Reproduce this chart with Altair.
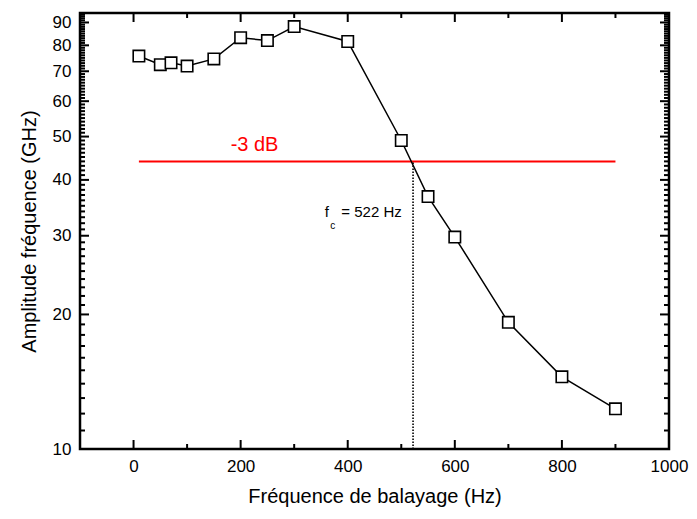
import altair as alt
import pandas as pd

# data
freq = [10, 50, 70, 100, 150, 200, 250, 300, 400, 500, 550, 600, 700, 800, 900]
amp = [75.7, 72.4, 73.1, 71.9, 74.6, 83.2, 82.0, 88.1, 81.6, 49.0, 36.7, 29.8, 19.2, 14.5, 12.3]

level_x = [10, 900]
level_y = 44.0
fc = 522

x_labels = [0, 200, 400, 600, 800, 1000]
x_major = [0, 200, 400, 600, 800]
x_minor = [100, 300, 500, 700, 900]
y_labels = [10, 20, 30, 40, 50, 60, 70, 80, 90]
y_minor = [v for v in range(11, 95) if v % 10 != 0]

W, H = 589, 436
FONT = "Liberation Sans"

xscale = alt.Scale(domain=[-100, 1000], nice=False, zero=False)
yscale = alt.Scale(type="log", domain=[10, 94.5], nice=False)

xaxis = alt.Axis(values=x_labels, title="Fréquence de balayage (Hz)", ticks=False, domain=False,
                 grid=False, labelFontSize=17, labelPadding=9, labelFlush=False, labelOverlap=False,
                 titleFontSize=20, titleFontWeight="normal", titlePadding=12, labelColor="black",
                 titleColor="black", labelFont=FONT, titleFont=FONT, format="d")
yaxis = alt.Axis(values=y_labels, title="Amplitude fréquence (GHz)", ticks=False, domain=False,
                 grid=False, labelFontSize=17, labelPadding=9, labelFlush=False, labelOverlap=False,
                 titleFontSize=20, titleFontWeight="normal", titlePadding=13, labelColor="black",
                 titleColor="black", labelFont=FONT, titleFont=FONT, format="d")


def X(f):
    return alt.X(f, type="quantitative", scale=xscale, axis=xaxis)


def Y(f):
    return alt.Y(f, type="quantitative", scale=yscale, axis=yaxis)


df = pd.DataFrame({"f": freq, "a": amp})

line = alt.Chart(df).mark_line(color="black", strokeWidth=1.5).encode(x=X("f"), y=Y("a"))
pts = alt.Chart(df).mark_point(shape="square", size=130, filled=True, fill="white",
                               stroke="black", strokeWidth=1.6, opacity=1).encode(x=X("f"), y=Y("a"))

red_df = pd.DataFrame({"f": [level_x[0]], "f2": [level_x[1]], "a": [level_y]})
red = alt.Chart(red_df).mark_rule(color="#ff0000", strokeWidth=2).encode(
    x=X("f"), x2="f2", y=Y("a"))

dot_df = pd.DataFrame({"f": [fc], "a": [10], "a2": [level_y]})
dot = alt.Chart(dot_df).mark_rule(color="black", strokeWidth=1.6, strokeDash=[1.5, 1.5]).encode(
    x=X("f"), y=Y("a"), y2="a2")

txt_red = alt.Chart(pd.DataFrame({"f": [226], "a": [47.8], "t": ["-3 dB"]})).mark_text(
    color="#ff0000", fontSize=20, font=FONT, align="center", baseline="middle").encode(
    x=X("f"), y=Y("a"), text="t")

txt_f = alt.Chart(pd.DataFrame({"f": [361], "a": [33.9], "t": ["f"]})).mark_text(
    color="black", fontSize=15, font=FONT, align="center", baseline="middle").encode(
    x=X("f"), y=Y("a"), text="t")
txt_c = alt.Chart(pd.DataFrame({"f": [372], "a": [31.6], "t": ["c"]})).mark_text(
    color="black", fontSize=10, font=FONT, align="center", baseline="middle").encode(
    x=X("f"), y=Y("a"), text="t")
txt_eq = alt.Chart(pd.DataFrame({"f": [501], "a": [33.9], "t": ["= 522 Hz"]})).mark_text(
    color="black", fontSize=15, font=FONT, align="right", baseline="middle").encode(
    x=X("f"), y=Y("a"), text="t")

# inward ticks on all four sides
ymaj = pd.DataFrame({"a": y_labels[1:]})
ymin = pd.DataFrame({"a": y_minor})
xmaj = pd.DataFrame({"f": x_major})
xmin = pd.DataFrame({"f": x_minor})

tick_layers = []
for d, L in [(ymaj, 9), (ymin, 5)]:
    tick_layers.append(alt.Chart(d).mark_rule(color="black", strokeWidth=2).encode(
        y=Y("a"), x=alt.value(0), x2=alt.value(L)))
    tick_layers.append(alt.Chart(d).mark_rule(color="black", strokeWidth=2).encode(
        y=Y("a"), x=alt.value(W - L), x2=alt.value(W)))
for d, L in [(xmaj, 9), (xmin, 5)]:
    tick_layers.append(alt.Chart(d).mark_rule(color="black", strokeWidth=2).encode(
        x=X("f"), y=alt.value(H - L), y2=alt.value(H)))
    tick_layers.append(alt.Chart(d).mark_rule(color="black", strokeWidth=2).encode(
        x=X("f"), y=alt.value(0), y2=alt.value(L)))

chart = alt.layer(red, dot, line, pts, txt_red, txt_f, txt_c, txt_eq, *tick_layers).properties(
    width=W, height=H,
    autosize=alt.AutoSizeParams(type="none"),
    padding={"left": 72, "top": 5, "right": 20, "bottom": 58},
).configure(background="white").configure_view(stroke="black", strokeWidth=2.5)

chart.save("out.html", embed_options={"renderer": "svg", "actions": False})
